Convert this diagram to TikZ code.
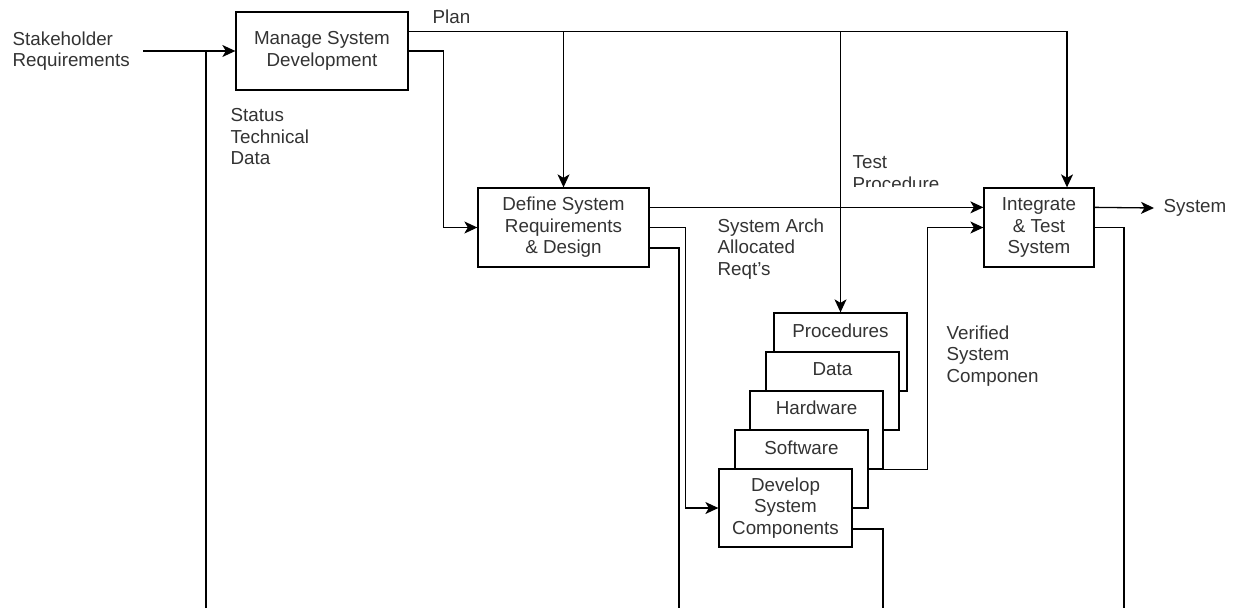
\documentclass[tikz,border=0pt]{standalone}
\usepackage{fontspec}
\setmainfont{Liberation Sans}
\usetikzlibrary{arrows.meta,calc}
\definecolor{txt}{HTML}{333333}
\begin{document}
\begin{tikzpicture}[x=1pt,y=-1pt,
  font=\fontsize{18.8}{21.5}\selectfont, text=txt, line width=1.3pt,
  box/.style={draw=black, fill=white, inner sep=0pt, align=center},
  stackbox/.style={draw=black, fill=white, inner sep=0pt, minimum width=133pt, minimum height=78pt},
  lbl/.style={inner sep=0pt, align=left},
  arr/.style={-{Stealth[length=13pt,width=12pt,inset=3.5pt]}}]
\useasboundingbox (0,0) rectangle (1233,608);
\fill[white] (0,0) rectangle (1233,608);

% main boxes
\node[box, minimum width=172pt, minimum height=78pt] (manage) at (322,51) {Manage System\\Development};
\node[box, minimum width=171pt, minimum height=79pt] (define) at (563.5,227.5) {Define System\\Requirements\\\& Design};
\node[box, minimum width=110pt, minimum height=79pt] (integrate) at (1039,227.5) {Integrate\\\& Test\\System};

% stacked boxes (back to front)
\node[stackbox, label={[anchor=center, inner sep=0pt, yshift=-18pt]north:Procedures}] (procedures) at (840.5,352) {};
\node[stackbox, label={[anchor=center, inner sep=0pt, yshift=-18pt]north:Data}] (data) at (832.5,391) {};
\node[stackbox, label={[anchor=center, inner sep=0pt, yshift=-17pt]north:Hardware}] (hardware) at (816.5,430) {};
\node[stackbox, label={[anchor=center, inner sep=0pt, yshift=-18pt]north:Software}] (software) at (801.5,469) {};
\node[stackbox, align=center] (develop) at (785.5,508) {Develop\\System\\Components};

% labels
\node[lbl, anchor=west] (stake) at (12,51) {Stakeholder\\Requirements};
\node[lbl, anchor=west] (plan) at (432,17) {Plan};
\node[lbl, anchor=west] (status) at (230,137) {Status\\Technical\\Data};
\node[lbl, anchor=west] (arch) at (717,249) {System Arch\\Allocated\\Reqt's};
\node[lbl, anchor=west] (verified) at (946,356) {Verified\\System\\Componen};
\node[lbl, anchor=west] (sys) at (1163,208) {System};
\begin{scope}
\clip (845,140) rectangle (1000,186);
\node[lbl, anchor=west] (testproc) at (852,173) {Test\\Procedure};
\end{scope}

% coordinates for free ends
\coordinate (in) at (143,51);
\coordinate (fb) at (206,608);
\coordinate (d2) at (679,608);
\coordinate (dv) at (883,608);
\coordinate (ib) at (1124,608);
\coordinate (pstart) at ($(manage.north east)+(0,20)$);

% connectors
\draw[arr] (in) -- (manage.west);
\draw (fb) -- (fb |- manage.west);
\draw[arr] (pstart) -| ($(integrate.north)+(28,0)$);
\draw[arr] (pstart -| define.north) -- (define.north);
\draw[arr] (pstart -| procedures.north) -- (procedures.north);
\draw[arr] (manage.east) -- ++(35,0) |- (define.west);
\draw[arr] ($(define.north east)+(0,20)$) -- ($(integrate.north west)+(0,20)$);
\draw[arr] (define.east) -- ++(36,0) |- (develop.west);
\draw ($(define.east)+(0,20.5)$) -| (d2);
\draw[arr] (hardware.south east) -- ++(44,0) |- (integrate.west);
\draw ($(develop.east)+(0,21)$) -| (dv);
\draw[arr] ($(integrate.north east)+(0,20)$) -- ([xshift=-9pt]sys.west);
\draw (integrate.east) -| (ib);
\end{tikzpicture}
\end{document}
